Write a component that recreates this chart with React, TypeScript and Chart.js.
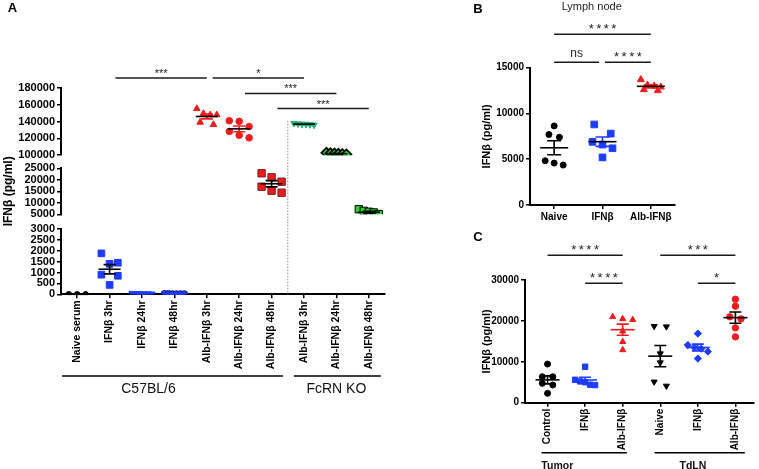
import React, { useEffect, useRef } from 'react';
import { Chart, registerables } from 'chart.js';

Chart.register(...registerables);

const FONT = "'Liberation Sans', Arial, Helvetica, sans-serif";
const BLUE = '#1e3cff';
const RED = '#f01c1c';
const TEAL = '#27b27a';
const GREEN = '#2bd12b';

// ---------------- Panel A data ----------------
const aCategories = ['Naive serum', 'IFNβ 3hr', 'IFNβ 24hr', 'IFNβ 48hr', 'Alb-IFNβ 3hr', 'Alb-IFNβ 24hr', 'Alb-IFNβ 48hr', 'Alb-IFNβ 3hr', 'Alb-IFNβ 24hr', 'Alb-IFNβ 48hr'];
const aNaiveSerum = [0, 0, 0];
const aIfn3hr = [1880, 1450, 1400, 900, 850, 430];
const aIfn24hr = [50, 40, 40, 30, 30, 20];
const aIfn48hr = [20, 20, 10, 10, 10, 10];
const aAlb3hr = [155400, 149600, 148000, 148000, 139200, 136400];
const aAlb24hr = [141000, 140300, 134100, 128300, 123700, 120700];
const aAlb48hr = [22830, 21090, 19170, 17000, 15260, 14390];
const aKo3hr = [138000, 137500, 137000, 137000, 136500, 136000];
const aKo24hr = [102800, 102300, 101900, 101600, 101200, 100900];
const aKo48hr = [7200, 6500, 6100, 5800, 5100, 4700];
const aTopTicks = [100000, 120000, 140000, 160000, 180000];
const aMidTicks = [5000, 10000, 15000, 20000, 25000];
const aLowTicks = [0, 500, 1000, 1500, 2000, 2500, 3000];
const aBracketFrom = [1.18, 4.18, 5.18, 6.18];
const aBracketTo = [4, 7, 8, 9];
const aBracketY = [192000, 192000, 173500, 155500];
const aBracketLabels = ['***', '*', '***', '***'];
const aGroupLabels = ['C57BL/6', 'FcRN KO'];
const aGroupFrom = [-0.47, 6.69];
const aGroupTo = [6.35, 9.37];
const aGroupLabelAt = [2.2, 8.0];

// ---------------- Panel B data ----------------
const bCategories = ['Naive', 'IFNβ', 'Alb-IFNβ'];
const bNaive = [8640, 7700, 7400, 4830, 4580, 4360];
const bIfn = [8800, 7800, 6900, 6600, 6200, 5200];
const bAlb = [13700, 13100, 13000, 12900, 12600, 12500];
const bTicks = [0, 5000, 10000, 15000];
const bBracketFrom = [0, 0, 1.05];
const bBracketTo = [2, 0.93, 2];
const bBracketY = [18650, 15590, 15590];
const bBracketLabels = ['****', 'ns', '****'];

// ---------------- Panel C data ----------------
const cCategories = ['Control', 'IFNβ', 'Alb-IFNβ', 'Naive', 'IFNβ', 'Alb-IFNβ'];
const cTumorControl = [9440, 6350, 6350, 4730, 4320, 2290];
const cTumorIfn = [8800, 5600, 5200, 5000, 4400, 4300];
const cTumorAlb = [21000, 20500, 20300, 17500, 14900, 12900];
const cTdlnNaive = [18700, 18600, 12000, 9800, 5100, 4100];
const cTdlnIfn = [16900, 14100, 13500, 13200, 12500, 10800];
const cTdlnAlb = [25300, 23600, 21000, 20500, 18300, 16100];
const cTicks = [0, 10000, 20000, 30000];
const cBracketFrom = [0, 1, 3, 4];
const cBracketTo = [2, 2, 5, 5];
const cBracketY = [36030, 29200, 36030, 29200];
const cBracketLabels = ['****', '****', '***', '*'];
const cGroupLabels = ['Tumor', 'TdLN'];
const cGroupFrom = [-0.16, 2.85];
const cGroupTo = [2.11, 5.25];
const cGroupLabelAt = [0.26, 3.87];

type Style = { shape: string; r: number; fill: string; stroke: string; bw?: number; rot?: number; mean: string; sem: string };

const aStyles: Style[] = [
  { shape: 'circle', r: 2.8, fill: '#000', stroke: '#000', mean: '#000', sem: '#000' },
  { shape: 'rect', r: 4.7, fill: BLUE, stroke: BLUE, mean: '#000', sem: '#000' },
  { shape: 'triangle', r: 3.6, rot: 180, fill: BLUE, stroke: BLUE, mean: BLUE, sem: BLUE },
  { shape: 'circle', r: 3.4, fill: BLUE, stroke: '#1a1a8a', mean: BLUE, sem: BLUE },
  { shape: 'triangle', r: 3.8, fill: RED, stroke: RED, mean: '#000', sem: RED },
  { shape: 'circle', r: 3.3, fill: RED, stroke: RED, mean: '#000', sem: RED },
  { shape: 'rect', r: 5.2, fill: RED, stroke: '#7a2020', mean: '#000', sem: '#000' },
  { shape: 'triangle', r: 3.8, rot: 180, fill: TEAL, stroke: TEAL, mean: '#000', sem: TEAL },
  { shape: 'rectRot', r: 5, fill: GREEN, stroke: '#000', bw: 1.8, mean: '#000', sem: '#000' },
  { shape: 'rect', r: 5.2, fill: GREEN, stroke: '#000', bw: 1, mean: '#000', sem: '#000' },
];
const bStyles: Style[] = [
  { shape: 'circle', r: 3, fill: '#000', stroke: '#000', mean: '#000', sem: '#000' },
  { shape: 'rect', r: 4.7, fill: BLUE, stroke: BLUE, mean: '#000', sem: BLUE },
  { shape: 'triangle', r: 4, fill: RED, stroke: RED, mean: '#000', sem: RED },
];
const cStyles: Style[] = [
  { shape: 'circle', r: 3, fill: '#000', stroke: '#000', mean: '#000', sem: '#000' },
  { shape: 'rect', r: 3.8, fill: BLUE, stroke: BLUE, mean: BLUE, sem: BLUE },
  { shape: 'triangle', r: 3.5, fill: RED, stroke: RED, mean: RED, sem: RED },
  { shape: 'triangle', r: 3.5, rot: 180, fill: '#000', stroke: '#000', mean: '#000', sem: '#000' },
  { shape: 'rectRot', r: 3.6, fill: BLUE, stroke: BLUE, mean: BLUE, sem: BLUE },
  { shape: 'circle', r: 3.2, fill: RED, stroke: RED, mean: '#000', sem: '#000' },
];

const zip = (from: number[], to: number[], y: number[], labels: string[]) =>
  labels.map((label, i) => ({ from: from[i], to: to[i], y: y[i], label }));
const zipGroups = (labels: string[], from: number[], to: number[], at: number[]) =>
  labels.map((label, i) => ({ label, from: from[i], to: to[i], at: at[i] }));

function makePlugin(spec: any) {
  return {
    id: 'panelExtras',
    afterDatasetsUpdate(chart: any) {
      const xs = chart.scales.x;
      chart.data.datasets.forEach((ds: any, di: number) => {
        const meta = chart.getDatasetMeta(di);
        const r = ds.pointRadius;
        const pts = meta.data.slice().sort((a: any, b: any) => a.y - b.y);
        const rows: any[][] = [];
        for (const p of pts) {
          const row = rows[rows.length - 1];
          if (row && p.y - row[0].y < 2 * r) row.push(p);
          else rows.push([p]);
        }
        const cx = xs.getPixelForValue(ds.catIndex);
        for (const row of rows) {
          const n = row.length;
          const s = n === 2 ? 3.5 * r : Math.min(3 * r, 20 / Math.max(n - 1, 1));
          row.forEach((p: any, i: number) => {
            p.x = cx + (i - (n - 1) / 2) * s;
          });
        }
      });
    },
    beforeDatasetsDraw(chart: any) {
      const d = spec.divider;
      if (!d) return;
      const { ctx, chartArea } = chart;
      const xs = chart.scales.x;
      const ys = chart.scales.y;
      const x = xs.getPixelForValue(d.at);
      const y0 = d.fromValue != null ? ys.getPixelForValue(d.fromValue) : chartArea.top - d.extendTop;
      const y1 = chartArea.bottom + d.extendBottom;
      ctx.save();
      ctx.strokeStyle = '#8a8a8a';
      ctx.lineWidth = 1;
      ctx.setLineDash([1.5, 1.5]);
      ctx.beginPath();
      ctx.moveTo(x, y0);
      ctx.lineTo(x, y1);
      ctx.stroke();
      ctx.restore();
    },
    afterDatasetsDraw(chart: any) {
      const { ctx } = chart;
      const xs = chart.scales.x;
      const ys = chart.scales.y;
      spec.groups.forEach((vals: number[], gi: number) => {
        const st = spec.styles[gi];
        const n = vals.length;
        const mean = vals.reduce((a, b) => a + b, 0) / n;
        const sd = Math.sqrt(vals.reduce((a, b) => a + (b - mean) * (b - mean), 0) / (n - 1));
        const sem = sd / Math.sqrt(n);
        if (mean < ys.min || mean > ys.max) return;
        const cx = xs.getPixelForValue(gi);
        const ym = ys.getPixelForValue(mean);
        const yHi = ys.getPixelForValue(Math.min(mean + sem, ys.max));
        const yLo = ys.getPixelForValue(Math.max(mean - sem, ys.min));
        ctx.save();
        ctx.lineWidth = 1.6;
        ctx.strokeStyle = st.sem;
        ctx.beginPath();
        ctx.moveTo(cx, yHi);
        ctx.lineTo(cx, yLo);
        ctx.moveTo(cx - spec.capHalf, yHi);
        ctx.lineTo(cx + spec.capHalf, yHi);
        ctx.moveTo(cx - spec.capHalf, yLo);
        ctx.lineTo(cx + spec.capHalf, yLo);
        ctx.stroke();
        ctx.strokeStyle = st.mean;
        ctx.beginPath();
        ctx.moveTo(cx - spec.meanHalf, ym);
        ctx.lineTo(cx + spec.meanHalf, ym);
        ctx.stroke();
        ctx.restore();
      });
    },
    afterDraw(chart: any) {
      const { ctx, chartArea } = chart;
      const xs = chart.scales.x;
      const ys = chart.scales.y;
      ctx.save();
      (spec.brackets || []).forEach((b: any) => {
        const x1 = xs.getPixelForValue(b.from);
        const x2 = xs.getPixelForValue(b.to);
        const y = ys.getPixelForValue(b.y);
        ctx.strokeStyle = '#1a1a1a';
        ctx.lineWidth = 1.5;
        ctx.beginPath();
        ctx.moveTo(x1, y);
        ctx.lineTo(x2, y);
        ctx.stroke();
        const stars = /^\*+$/.test(b.label);
        ctx.fillStyle = '#222';
        ctx.textAlign = 'center';
        ctx.textBaseline = 'alphabetic';
        ctx.font = stars ? `${spec.starFont}px ${FONT}` : `${spec.labelFont}px ${FONT}`;
        const sp = stars ? spec.starSpacing : 0;
        (ctx as any).letterSpacing = `${sp}px`;
        ctx.fillText(b.label, (x1 + x2) / 2 + sp / 2, y - (stars ? 1 : 5));
        (ctx as any).letterSpacing = '0px';
      });
      (spec.groupLines || []).forEach((g: any) => {
        const x1 = xs.getPixelForValue(g.from);
        const x2 = xs.getPixelForValue(g.to);
        const y = chartArea.bottom + spec.groupLineOffset;
        ctx.strokeStyle = '#000';
        ctx.lineWidth = 1.5;
        ctx.beginPath();
        ctx.moveTo(x1, y);
        ctx.lineTo(x2, y);
        ctx.stroke();
        ctx.fillStyle = '#111';
        ctx.font = spec.groupFont;
        ctx.textAlign = 'center';
        ctx.textBaseline = 'middle';
        ctx.fillText(g.label, xs.getPixelForValue(g.at), chartArea.bottom + spec.groupLabelOffset);
      });
      (spec.texts || []).forEach((t: any) => {
        ctx.fillStyle = t.color || '#000';
        ctx.font = t.font;
        ctx.textAlign = 'center';
        ctx.textBaseline = 'middle';
        ctx.fillText(t.text, t.x, t.y);
      });
      ctx.restore();
    },
  };
}

function buildConfig(spec: any): any {
  const yMin = spec.ticks[0];
  const yMax = spec.ticks[spec.ticks.length - 1];
  const datasets = spec.groups.map((vals: number[], gi: number) => {
    const st: Style = spec.styles[gi];
    return {
      label: spec.categories[gi],
      catIndex: gi,
      data: vals.filter((v) => v >= yMin && v <= yMax).map((v) => ({ x: gi, y: v })),
      pointStyle: st.shape,
      pointRadius: st.r,
      pointHoverRadius: st.r,
      pointBackgroundColor: st.fill,
      pointBorderColor: st.stroke,
      pointBorderWidth: st.bw ?? 1,
      pointRotation: st.rot ?? 0,
      showLine: false,
    };
  });
  return {
    type: 'scatter',
    data: { datasets },
    plugins: [makePlugin(spec)],
    options: {
      responsive: false,
      maintainAspectRatio: false,
      animation: false,
      events: [],
      layout: { padding: spec.pad },
      plugins: { legend: { display: false }, tooltip: { enabled: false }, title: { display: false } },
      scales: {
        x: {
          type: 'linear',
          min: spec.xMin,
          max: spec.xMax,
          display: spec.showX,
          afterBuildTicks: (s: any) => {
            s.ticks = spec.categories.map((_: string, i: number) => ({ value: i }));
          },
          afterFit: (s: any) => {
            s.height = spec.showX ? spec.xHeight : 0;
            s.paddingLeft = 0;
            s.paddingRight = 0;
          },
          ticks: {
            autoSkip: false,
            minRotation: spec.xRotation,
            maxRotation: spec.xRotation,
            padding: 2,
            color: '#000',
            font: { family: FONT, size: spec.xFontSize, weight: 'bold' },
            callback: (v: any) => spec.categories[Math.round(Number(v))] ?? '',
          },
          grid: { display: true, drawOnChartArea: false, drawTicks: true, tickLength: 4, color: '#000', lineWidth: 1.5 },
          border: { display: true, color: '#000', width: 2 },
        },
        y: {
          type: 'linear',
          min: yMin,
          max: yMax,
          afterBuildTicks: (s: any) => {
            s.ticks = spec.ticks.map((v: number) => ({ value: v }));
          },
          afterFit: (s: any) => {
            s.width = spec.yWidth;
            s.paddingTop = 0;
            s.paddingBottom = 0;
          },
          ticks: {
            autoSkip: false,
            padding: 2,
            color: '#000',
            font: { family: FONT, size: spec.yFontSize, weight: 'bold' },
            callback: (v: any) => String(v),
          },
          title: spec.yTitle
            ? {
                display: true,
                text: spec.yTitle.text,
                color: '#000',
                font: { family: FONT, size: spec.yTitle.size, weight: 'bold' },
                padding: { top: spec.yTitle.pad, bottom: 0 },
              }
            : { display: false },
          grid: { display: true, drawOnChartArea: false, drawTicks: true, tickLength: 4, color: '#000', lineWidth: 1.5 },
          border: { display: true, color: '#000', width: 2 },
        },
      },
    },
  };
}

const aGroupsData = [aNaiveSerum, aIfn3hr, aIfn24hr, aIfn48hr, aAlb3hr, aAlb24hr, aAlb48hr, aKo3hr, aKo24hr, aKo48hr];

const aCommon = {
  left: 0, width: 400, categories: aCategories, groups: aGroupsData, styles: aStyles,
  xMin: -0.5, xMax: 9.5, yWidth: 61, xHeight: 100, xRotation: 90, xFontSize: 10.5, yFontSize: 11,
  meanHalf: 11, capHalf: 6, starFont: 11, starSpacing: 0, labelFont: 11,
};

const specATop = {
  ...aCommon, top: 0, height: 162, ticks: aTopTicks, showX: false,
  pad: { left: 0, top: 88, right: 15, bottom: 5.5 },
  brackets: zip(aBracketFrom, aBracketTo, aBracketY, aBracketLabels),
  divider: { at: 6.5, fromValue: 141000, extendTop: 0, extendBottom: 5.6 },
  texts: [{ text: 'A', x: 12.5, y: 8, font: `bold 13px ${FONT}` }],
};
const specAMid = {
  ...aCommon, top: 140, height: 110, ticks: aMidTicks, showX: false,
  pad: { left: 0, top: 28.3, right: 15, bottom: 35.7 },
  yTitle: { text: 'IFNβ (pg/ml)', size: 12, pad: 1 },
  divider: { at: 6.5, extendTop: 5.7, extendBottom: 7.4 },
};
const specALow = {
  ...aCommon, top: 222, height: 247, ticks: aLowTicks, showX: true,
  pad: { left: 0, top: 7, right: 15, bottom: 74.7 },
  groupLines: zipGroups(aGroupLabels, aGroupFrom, aGroupTo, aGroupLabelAt),
  groupLineOffset: 81.7, groupLabelOffset: 94.4, groupFont: `14px ${FONT}`,
  divider: { at: 6.5, extendTop: 7.3, extendBottom: 0 },
};

const specB = {
  left: 460, top: 0, width: 230, height: 225, categories: bCategories, groups: [bNaive, bIfn, bAlb], styles: bStyles,
  xMin: -0.5, xMax: 2.5, ticks: bTicks, showX: true, yWidth: 70, xHeight: 18, xRotation: 0, xFontSize: 10, yFontSize: 10,
  pad: { left: 0, top: 67.7, right: 15, bottom: 2 },
  yTitle: { text: 'IFNβ (pg/ml)', size: 11, pad: 20 },
  meanHalf: 14, capHalf: 7, starFont: 13, starSpacing: 2.5, labelFont: 12,
  brackets: zip(bBracketFrom, bBracketTo, bBracketY, bBracketLabels),
  texts: [
    { text: 'B', x: 18, y: 9, font: `bold 13px ${FONT}` },
    { text: 'Lymph node', x: 131.7, y: 7, font: `11px ${FONT}`, color: '#222' },
  ],
};

const specC = {
  left: 460, top: 225, width: 299, height: 244, categories: cCategories,
  groups: [cTumorControl, cTumorIfn, cTumorAlb, cTdlnNaive, cTdlnIfn, cTdlnAlb], styles: cStyles,
  xMin: -0.6, xMax: 5.5, ticks: cTicks, showX: true, yWidth: 65, xHeight: 50, xRotation: 90, xFontSize: 10, yFontSize: 10,
  pad: { left: 0, top: 55, right: 1, bottom: 16.3 },
  yTitle: { text: 'IFNβ (pg/ml)', size: 11, pad: 20 },
  meanHalf: 12, capHalf: 6, starFont: 13, starSpacing: 2.5, labelFont: 12,
  brackets: zip(cBracketFrom, cBracketTo, cBracketY, cBracketLabels),
  groupLines: zipGroups(cGroupLabels, cGroupFrom, cGroupTo, cGroupLabelAt),
  groupLineOffset: 50, groupLabelOffset: 63.3, groupFont: `bold 10.5px ${FONT}`,
  texts: [{ text: 'C', x: 18, y: 12, font: `bold 13px ${FONT}` }],
};

function Panel({ spec }: { spec: any }) {
  const ref = useRef<HTMLCanvasElement>(null);
  useEffect(() => {
    const chart = new Chart(ref.current as HTMLCanvasElement, buildConfig(spec));
    return () => chart.destroy();
  }, [spec]);
  return (
    <canvas
      ref={ref}
      width={spec.width}
      height={spec.height}
      style={{ position: 'absolute', left: spec.left, top: spec.top, width: spec.width, height: spec.height }}
    />
  );
}

export default function App() {
  return (
    <div style={{ position: 'fixed', left: 0, top: 0, width: 759, height: 469, background: '#fff', overflow: 'hidden' }}>
      <Panel spec={specATop} />
      <Panel spec={specAMid} />
      <Panel spec={specALow} />
      <Panel spec={specB} />
      <Panel spec={specC} />
    </div>
  );
}
